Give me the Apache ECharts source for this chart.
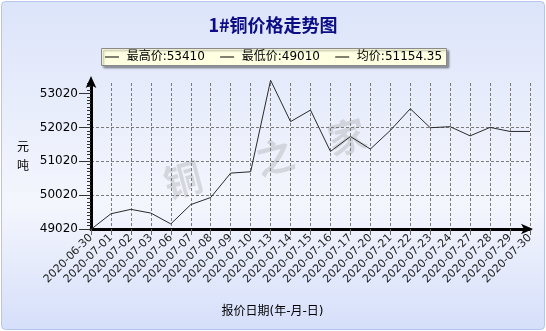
<!DOCTYPE html>
<html>
<head>
<meta charset="utf-8">
<title>1#铜价格走势图</title>
<script src="https://cdn.jsdelivr.net/npm/echarts@6/dist/echarts.min.js"></script>
<style>
  html, body { margin: 0; padding: 0; background: #fff; }
  #chart { width: 546px; height: 331px; }
</style>
</head>
<body>
<div id="chart"></div>
<script>
  var dates = ['2020-06-30', '2020-07-01', '2020-07-02', '2020-07-03', '2020-07-06', '2020-07-07',
    '2020-07-08', '2020-07-09', '2020-07-10', '2020-07-13', '2020-07-14', '2020-07-15',
    '2020-07-16', '2020-07-17', '2020-07-20', '2020-07-21', '2020-07-22', '2020-07-23',
    '2020-07-24', '2020-07-27', '2020-07-28', '2020-07-29', '2020-07-30']
  var prices = [49010, 49470, 49600, 49490, 49170, 49740,
    49950, 50670, 50710, 53410, 52190, 52530,
    51310, 51750, 51380, 51930, 52570, 52010,
    52040, 51770, 52020, 51900, 51900]
  var yTicks = [49020, 50020, 51020, 52020, 53020]
  var statNames = ['最高价', '最低价', '均价']
  var statValues = ['53410', '49010', '51154.35']

  var font = 'DejaVu Sans, Noto Sans CJK SC'

  var legendText = statNames.map(function (n, i) {
    return '{ln|}  ' + n + ':' + statValues[i]
  }).join('    ')

  var chart = echarts.init(document.getElementById('chart'))

  var markStyle = { font: 'bold 38px Noto Sans CJK SC', fill: 'rgba(150,150,150,0.3)', align: 'center', verticalAlign: 'middle' }

  var option = {
    animation: false,
    backgroundColor: '#fff',
    title: [
      {
        text: '1#铜价格走势图',
        left: 'center',
        top: 11,
        textStyle: { fontSize: 18, fontWeight: 'bold', color: '#0c0c86', fontFamily: 'Noto Sans CJK SC' }
      },
      {
        text: legendText,
        left: 101,
        top: 48,
        padding: [3, 5, 3, 4],
        backgroundColor: '#ffffe1',
        borderColor: '#8a8a8a',
        borderWidth: 1,
        shadowColor: 'rgba(0,0,0,0.35)',
        shadowOffsetX: 2,
        shadowOffsetY: 2,
        shadowBlur: 2,
        textStyle: {
          fontSize: 12,
          fontWeight: 'normal',
          color: '#000',
          fontFamily: font,
          rich: {
            ln: { width: 14, height: 1, backgroundColor: '#000' }
          }
        }
      }
    ],
    grid: { left: 91, right: 16, top: 83, bottom: 102 },
    xAxis: {
      type: 'category',
      data: dates,
      boundaryGap: false,
      name: '报价日期(年-月-日)',
      nameLocation: 'middle',
      nameGap: 77,
      nameTextStyle: { fontSize: 12, color: '#000', fontFamily: font, padding: [0, 76, 0, 0] },
      axisLine: {
        lineStyle: { color: '#000', width: 3 },
        symbol: ['none', 'arrow'],
        symbolSize: [8, 12],
        symbolOffset: [0, 3]
      },
      axisTick: { length: 6, lineStyle: { color: '#666' } },
      axisLabel: { rotate: 45, interval: 0, fontSize: 11, color: '#222', fontFamily: font, margin: 7 },
      splitLine: { show: true, lineStyle: { color: '#7a7a7a', type: [3, 2] } }
    },
    yAxis: {
      type: 'value',
      min: 49020,
      max: 53330,
      interval: 1000,
      name: '元\n吨',
      nameLocation: 'middle',
      nameRotate: 0,
      nameGap: 62,
      nameTextStyle: { fontSize: 12, color: '#000', fontFamily: 'Noto Sans CJK SC', lineHeight: 19, padding: [0, 0, 11, 0] },
      axisLine: {
        show: true,
        lineStyle: { color: '#000', width: 3 },
        symbol: ['none', 'arrow'],
        symbolSize: [8, 12],
        symbolOffset: [0, 7]
      },
      axisTick: { show: true, length: 12, customValues: yTicks, lineStyle: { color: '#333' } },
      minorTick: { show: true, splitNumber: 10, length: 4, lineStyle: { color: '#333' } },
      axisLabel: {
        customValues: yTicks,
        fontSize: 12,
        color: '#000',
        fontFamily: font,
        margin: 13,
        formatter: function (v) { return String(v) }
      },
      splitLine: { show: true, showMaxLine: false, lineStyle: { color: '#7a7a7a', type: [3, 2] } }
    },
    graphic: [
      {
        type: 'rect',
        z: -10,
        silent: true,
        shape: { x: 1.5, y: 1.5, width: 543, height: 328, r: 4 },
        style: {
          fill: new echarts.graphic.LinearGradient(0, 0, 0, 1, [
            { offset: 0, color: '#dce4fa' },
            { offset: 0.62, color: '#f4f6fd' },
            { offset: 1, color: '#d6dffa' }
          ]),
          stroke: '#b6c5ee',
          lineWidth: 1
        }
      },
      // watermark
      { type: 'text', z: -5, silent: true, x: 183, y: 180, rotation: 0.26, style: Object.assign({ text: '铜' }, markStyle) },
      { type: 'text', z: -5, silent: true, x: 275, y: 157, rotation: 0.26, style: Object.assign({ text: '之' }, markStyle) },
      { type: 'text', z: -5, silent: true, x: 347, y: 137, rotation: 0.26, style: Object.assign({ text: '家' }, markStyle) }
    ],
    series: [
      {
        type: 'line',
        data: prices,
        symbol: 'none',
        clip: false,
        z: 3,
        lineStyle: { color: '#2a2a2a', width: 1 }
      }
    ]
  }

  chart.setOption(option)
</script>
</body>
</html>
